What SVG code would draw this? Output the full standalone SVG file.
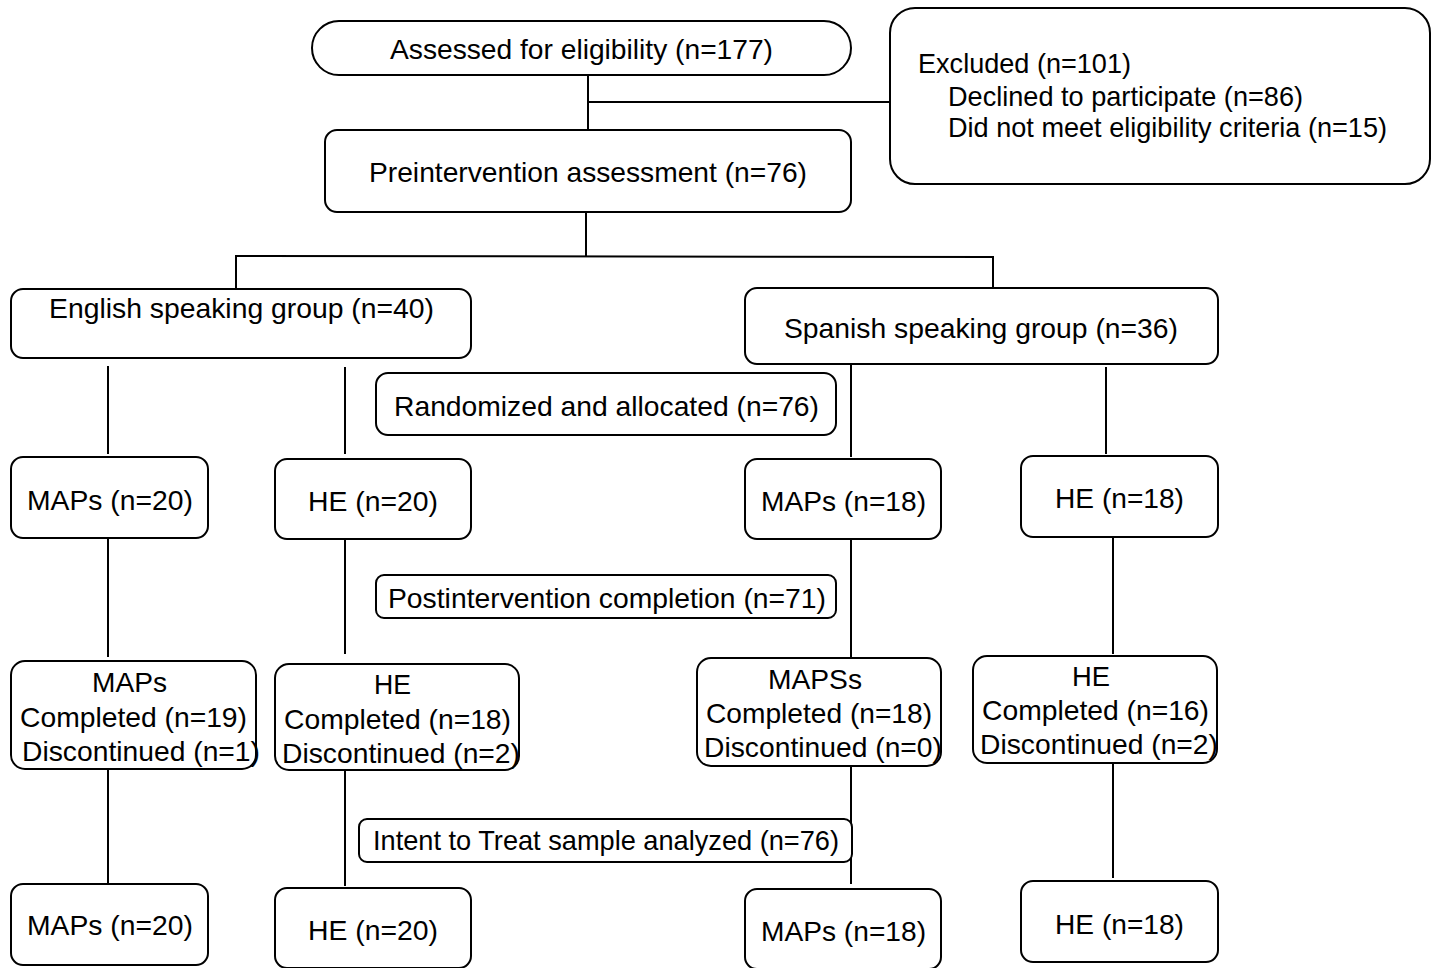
<svg xmlns="http://www.w3.org/2000/svg" width="1432" height="968" viewBox="0 0 1432 968">
<style>
rect{fill:#fff;stroke:#000;stroke-width:2}
text{font-family:"Liberation Sans",Arial,sans-serif;font-size:28px;fill:#000}
.c line{stroke:#000;stroke-width:2}
</style>
<rect x="0" y="0" width="1432" height="968" style="stroke:none"/>
<g class="c" id="connectors">
<line x1="588" y1="75" x2="588" y2="130"/>
<line x1="587" y1="102" x2="890" y2="102"/>
<line x1="586" y1="212" x2="586" y2="257"/>
<line x1="235" y1="256" x2="994" y2="257"/>
<line x1="236" y1="256" x2="236" y2="290"/>
<line x1="993" y1="257" x2="993" y2="289"/>
<line x1="108" y1="366" x2="108" y2="454"/>
<line x1="345" y1="367" x2="345" y2="454"/>
<line x1="851" y1="364" x2="851" y2="457"/>
<line x1="1106" y1="367" x2="1106" y2="454"/>
<line x1="108" y1="538" x2="108" y2="657"/>
<line x1="345" y1="539" x2="345" y2="654"/>
<line x1="851" y1="539" x2="851" y2="657"/>
<line x1="1113" y1="537" x2="1113" y2="654"/>
<line x1="108" y1="769" x2="108" y2="884"/>
<line x1="345" y1="770" x2="345" y2="886"/>
<line x1="851" y1="766" x2="851" y2="884"/>
<line x1="1113" y1="762" x2="1113" y2="878"/>
</g>
<g id="assessed"><rect x="312" y="21" width="539" height="54" rx="27"/><text x="390" y="59" textLength="383" lengthAdjust="spacingAndGlyphs">Assessed for eligibility (n=177)</text></g>
<g id="excluded"><rect x="890" y="8" width="540" height="176" rx="25"/><text x="918" y="73" textLength="213" lengthAdjust="spacingAndGlyphs">Excluded (n=101)</text><text x="948" y="106" textLength="355" lengthAdjust="spacingAndGlyphs">Declined to participate (n=86)</text><text x="948" y="137" textLength="439" lengthAdjust="spacingAndGlyphs">Did not meet eligibility criteria (n=15)</text></g>
<g id="pre"><rect x="325" y="130" width="526" height="82" rx="12"/><text x="369" y="182" textLength="438" lengthAdjust="spacingAndGlyphs">Preintervention assessment (n=76)</text></g>
<g id="english"><rect x="11" y="289" width="460" height="69" rx="12"/><text x="49" y="318" textLength="385" lengthAdjust="spacingAndGlyphs">English speaking group (n=40)</text></g>
<g id="spanish"><rect x="745" y="288" width="473" height="76" rx="12"/><text x="784" y="338" textLength="394" lengthAdjust="spacingAndGlyphs">Spanish speaking group (n=36)</text></g>
<g id="randomized"><rect x="376" y="373" width="460" height="62" rx="12"/><text x="394" y="416" textLength="425" lengthAdjust="spacingAndGlyphs">Randomized and allocated (n=76)</text></g>
<g id="maps1"><rect x="11" y="457" width="197" height="81" rx="12"/><text x="27" y="510" textLength="166" lengthAdjust="spacingAndGlyphs">MAPs (n=20)</text></g>
<g id="he1"><rect x="275" y="459" width="196" height="80" rx="12"/><text x="308" y="511" textLength="130" lengthAdjust="spacingAndGlyphs">HE (n=20)</text></g>
<g id="maps2"><rect x="745" y="459" width="196" height="80" rx="12"/><text x="761" y="511" textLength="165" lengthAdjust="spacingAndGlyphs">MAPs (n=18)</text></g>
<g id="he2"><rect x="1021" y="456" width="197" height="81" rx="12"/><text x="1055" y="508" textLength="129" lengthAdjust="spacingAndGlyphs">HE (n=18)</text></g>
<g id="post"><rect x="376" y="575" width="460" height="43" rx="8"/><text x="388" y="608" textLength="438" lengthAdjust="spacingAndGlyphs">Postintervention completion (n=71)</text></g>
<g id="mapsc1"><rect x="11" y="661" width="245" height="108" rx="14"/><text x="92" y="692" textLength="75" lengthAdjust="spacingAndGlyphs">MAPs</text><text x="20" y="727" textLength="227" lengthAdjust="spacingAndGlyphs">Completed (n=19)</text><text x="22" y="761" textLength="238" lengthAdjust="spacingAndGlyphs">Discontinued (n=1)</text></g>
<g id="hec1"><rect x="275" y="664" width="244" height="106" rx="14"/><text x="374" y="694" textLength="37" lengthAdjust="spacingAndGlyphs">HE</text><text x="284" y="729" textLength="227" lengthAdjust="spacingAndGlyphs">Completed (n=18)</text><text x="282" y="763" textLength="238" lengthAdjust="spacingAndGlyphs">Discontinued (n=2)</text></g>
<g id="mapsc2"><rect x="697" y="658" width="244" height="108" rx="14"/><text x="768" y="689" textLength="94" lengthAdjust="spacingAndGlyphs">MAPSs</text><text x="706" y="723" textLength="226" lengthAdjust="spacingAndGlyphs">Completed (n=18)</text><text x="704" y="757" textLength="238" lengthAdjust="spacingAndGlyphs">Discontinued (n=0)</text></g>
<g id="hec2"><rect x="973" y="656" width="244" height="107" rx="14"/><text x="1072" y="686" textLength="38" lengthAdjust="spacingAndGlyphs">HE</text><text x="982" y="720" textLength="227" lengthAdjust="spacingAndGlyphs">Completed (n=16)</text><text x="980" y="754" textLength="238" lengthAdjust="spacingAndGlyphs">Discontinued (n=2)</text></g>
<g id="itt"><rect x="359" y="819" width="493" height="43" rx="8"/><text x="373" y="850" textLength="466" lengthAdjust="spacingAndGlyphs">Intent to Treat sample analyzed (n=76)</text></g>
<g id="maps3"><rect x="11" y="884" width="197" height="81" rx="12"/><text x="27" y="935" textLength="166" lengthAdjust="spacingAndGlyphs">MAPs (n=20)</text></g>
<g id="he3"><rect x="275" y="888" width="196" height="80" rx="12"/><text x="308" y="940" textLength="130" lengthAdjust="spacingAndGlyphs">HE (n=20)</text></g>
<g id="maps4"><rect x="745" y="889" width="196" height="80" rx="12"/><text x="761" y="941" textLength="165" lengthAdjust="spacingAndGlyphs">MAPs (n=18)</text></g>
<g id="he4"><rect x="1021" y="881" width="197" height="81" rx="12"/><text x="1055" y="934" textLength="129" lengthAdjust="spacingAndGlyphs">HE (n=18)</text></g>
</svg>
